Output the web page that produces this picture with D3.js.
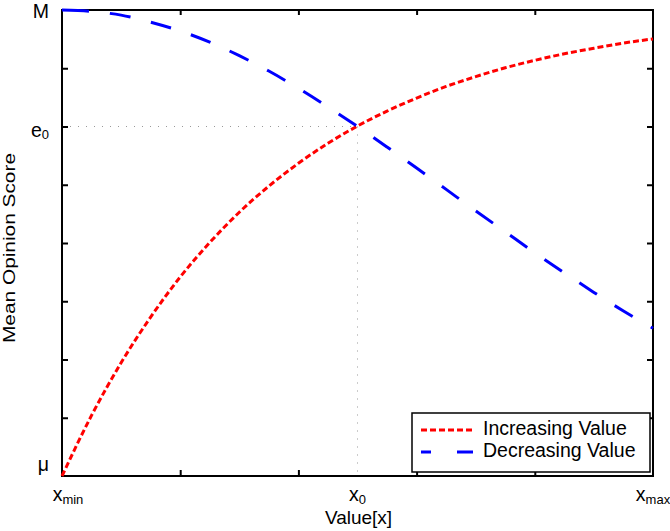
<!DOCTYPE html>
<html>
<head>
<meta charset="utf-8">
<script src="https://cdn.jsdelivr.net/npm/d3@7"></script>
<style>
  body { margin: 0; background: #fff; }
  text { font-family: "Liberation Sans", Arial, sans-serif; fill: #000; }
</style>
</head>
<body>
<div id="chart"></div>
<script>
// normalised x positions and the two curves (0 = mu, 1 = M)
var xs = [0, 0.05, 0.1, 0.15, 0.2, 0.25, 0.3, 0.35, 0.4, 0.45, 0.5,
          0.55, 0.6, 0.65, 0.7, 0.75, 0.8, 0.85, 0.9, 0.95, 1];
var increasing = [0, 0.13, 0.243, 0.341, 0.427, 0.501, 0.566, 0.622, 0.671, 0.714, 0.751,
                  0.783, 0.811, 0.836, 0.857, 0.876, 0.892, 0.906, 0.918, 0.929, 0.938];
var decreasing = [1, 0.997, 0.989, 0.974, 0.955, 0.931, 0.902, 0.869, 0.832, 0.792, 0.75,
                  0.706, 0.661, 0.615, 0.569, 0.524, 0.479, 0.436, 0.394, 0.354, 0.317];

var x0 = 0.5, e0 = 0.75;
var xTicks = [0.2, 0.4, 0.6, 0.8];
var yTicks = [0.125, 0.25, 0.375, 0.5, 0.625, 0.75, 0.875];
var xLabels = [{v: 0, main: "x", sub: "min"}, {v: x0, main: "x", sub: "0"}, {v: 1, main: "x", sub: "max"}];
var yLabels = [{v: 1, main: "M", sub: ""}, {v: e0, main: "e", sub: "0"}, {v: 0, main: "\u03bc", sub: ""}];
var seriesNames = ["Increasing Value", "Decreasing Value"];

var margin = {top: 10, right: 17, bottom: 55, left: 62},
    width = 670 - margin.left - margin.right,
    height = 531 - margin.top - margin.bottom;

var svg = d3.select("#chart")
  .append("svg")
    .attr("width", 670)
    .attr("height", 531)
  .append("g")
    .attr("transform", "translate(" + margin.left + "," + margin.top + ")");

var x = d3.scaleLinear().domain([0, 1]).range([0, width]);
var y = d3.scaleLinear().domain([0, 1]).range([height, 0]);

// inward ticks on all four sides, matlab style
svg.append("g").attr("transform", "translate(0," + height + ")")
  .call(d3.axisTop(x).tickValues(xTicks).tickSize(6).tickFormat(""));
svg.append("g")
  .call(d3.axisBottom(x).tickValues(xTicks).tickSize(5).tickFormat(""));
svg.append("g")
  .call(d3.axisRight(y).tickValues(yTicks).tickSize(6).tickFormat(""));
svg.append("g").attr("transform", "translate(" + width + ",0)")
  .call(d3.axisLeft(y).tickValues(yTicks).tickSize(6).tickFormat(""));
svg.selectAll(".domain").remove();
svg.selectAll(".tick line").attr("stroke", "#000").attr("stroke-width", 2);

// dotted guides to (x0, e0)
svg.append("line")
  .attr("x1", x(0)).attr("x2", x(x0)).attr("y1", y(e0)).attr("y2", y(e0))
  .attr("stroke", "#999").attr("stroke-width", 1).attr("stroke-dasharray", "1,7");
svg.append("line")
  .attr("x1", x(x0)).attr("x2", x(x0)).attr("y1", y(e0)).attr("y2", y(0))
  .attr("stroke", "#999").attr("stroke-width", 1).attr("stroke-dasharray", "1,7");

// box
svg.append("rect")
  .attr("x", 0).attr("y", 0).attr("width", width).attr("height", height)
  .attr("fill", "none").attr("stroke", "#000").attr("stroke-width", 2);

var line = d3.line()
  .x(function(d, i) { return x(xs[i]); })
  .y(function(d) { return y(d); })
  .curve(d3.curveMonotoneX);

svg.append("path").datum(increasing)
  .attr("d", line)
  .attr("fill", "none").attr("stroke", "#ff0000").attr("stroke-width", 3)
  .attr("stroke-dasharray", "6,3");

svg.append("path").datum(decreasing)
  .attr("d", line)
  .attr("fill", "none").attr("stroke", "#0000ff").attr("stroke-width", 3)
  .attr("stroke-dasharray", "27,21,21,21,21,21,21,21,21,21,21,21,21,21,21,21,21,21,21,21,21,21,21,21,21,21,21,21,21,21,21,21,21,21,21,21");

// tick labels
var xl = svg.selectAll(".xlab").data(xLabels).enter().append("text")
  .attr("class", "xlab")
  .attr("x", function(d) { return x(d.v) + (d.v == 0 ? 6 : 0); })
  .attr("y", height + 25)
  .attr("text-anchor", "middle")
  .style("font-size", "19.5px");
xl.append("tspan").text(function(d) { return d.main; });
xl.append("tspan").attr("dy", 3).style("font-size", "13px").text(function(d) { return d.sub; });

var yl = svg.selectAll(".ylab").data(yLabels).enter().append("text")
  .attr("class", "ylab")
  .attr("x", -13)
  .attr("y", function(d) { return y(d.v) + (d.v == 1 ? 8 : d.v == 0 ? -5 : 10); })
  .attr("text-anchor", "end")
  .style("font-size", "19.5px");
yl.append("tspan").text(function(d) { return d.main; });
yl.append("tspan").attr("dy", 2).style("font-size", "13px").text(function(d) { return d.sub; });

// axis titles
svg.append("text")
  .attr("x", width / 2 + 1)
  .attr("y", height + 48)
  .attr("text-anchor", "middle")
  .style("font-size", "19px")
  .text("Value[x]");

svg.append("text")
  .attr("transform", "rotate(-90)")
  .attr("x", -(height / 2) - 5)
  .attr("y", 15 - margin.left)
  .attr("text-anchor", "middle")
  .attr("textLength", 190)
  .attr("lengthAdjust", "spacingAndGlyphs")
  .style("font-size", "17px")
  .text("Mean Opinion Score");

// legend
var lg = svg.append("g").attr("transform", "translate(" + (412 - margin.left) + "," + (413 - margin.top) + ")");
lg.append("rect")
  .attr("width", 238).attr("height", 59)
  .attr("fill", "#fff").attr("stroke", "#000").attr("stroke-width", 1.5);
lg.append("line").attr("x1", 9).attr("x2", 61).attr("y1", 17).attr("y2", 17)
  .attr("stroke", "#ff0000").attr("stroke-width", 3).attr("stroke-dasharray", "6,3");
lg.append("line").attr("x1", 9).attr("x2", 61).attr("y1", 39).attr("y2", 39)
  .attr("stroke", "#0000ff").attr("stroke-width", 3).attr("stroke-dasharray", "10,26,16");
lg.selectAll(".lt").data(seriesNames).enter().append("text")
  .attr("class", "lt")
  .attr("x", 71)
  .attr("y", function(d, i) { return 22 + i * 22; })
  .style("font-size", "19.5px")
  .text(function(d) { return d; });
</script>
</body>
</html>
